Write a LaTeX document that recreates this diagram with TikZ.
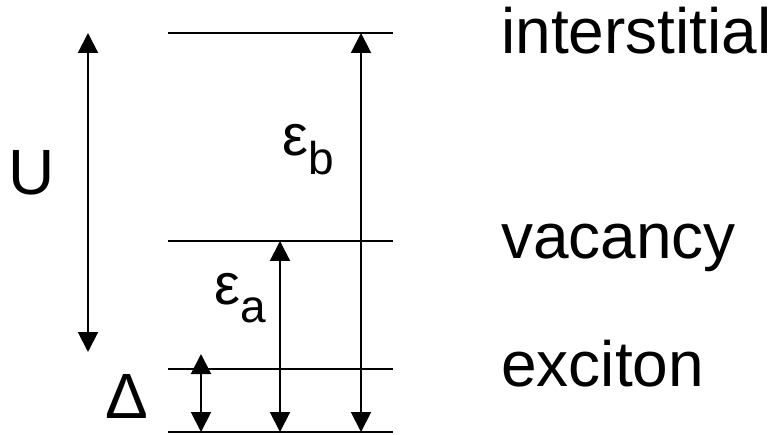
\documentclass[tikz,border=0pt]{standalone}
\usepackage{fontspec}
\setmainfont{Liberation Sans}
\usetikzlibrary{arrows.meta}
\begin{document}
\begin{tikzpicture}[x=1pt,y=-1pt,
  level/.style={line width=2pt},
  energy/.style={line width=2pt,{Triangle[width=20pt,length=20pt]}-{Triangle[width=20pt,length=20pt]}},
  lbl/.style={inner sep=0pt,anchor=base west,font=\fontsize{64}{72}\selectfont},
  eps/.style={inner sep=0pt,anchor=base west,font=\fontsize{58}{66}\selectfont}]
\useasboundingbox (0,0) rectangle (778,435);
% levels
\coordinate (iL) at (168,33);  \coordinate (iR) at (393,33);
\coordinate (vL) at (168,241); \coordinate (vR) at (393,241);
\coordinate (eL) at (168,369); \coordinate (eR) at (393,369);
\coordinate (gL) at (168,432); \coordinate (gR) at (393,432);
\draw[level] (iL) -- (iR);
\draw[level] (vL) -- (vR);
\draw[level] (eL) -- (eR);
\draw[level] (gL) -- (gR);
% arrows
\coordinate (uT) at (88,33);   \coordinate (uB) at (88,352);
\coordinate (dT) at (201,354); \coordinate (dB) at (201,432);
\coordinate (aT) at (280,241); \coordinate (aB) at (280,432);
\coordinate (bT) at (361,33);  \coordinate (bB) at (361,432);
\draw[energy] (uT) -- (uB);
\draw[energy] (dT) -- (dB);
\draw[energy] (aT) -- (aB);
\draw[energy] (bT) -- (bB);
% labels
\node[lbl] (tI) at (501,54) {interstitial};
\node[lbl] (tV) at (501,259) {vacancy};
\node[lbl] (tE) at (501,386) {exciton};
\node[lbl] (tU) at (8,195) {U};
\node[lbl] (tD) at (105,418) {Δ};
\node[eps] (tA) at (214,304) {ε\raisebox{-18pt}{\fontsize{46}{52}\selectfont a}};
\node[eps] (tB) at (282,156) {ε\raisebox{-19pt}{\fontsize{46}{52}\selectfont b}};
\end{tikzpicture}
\end{document}
